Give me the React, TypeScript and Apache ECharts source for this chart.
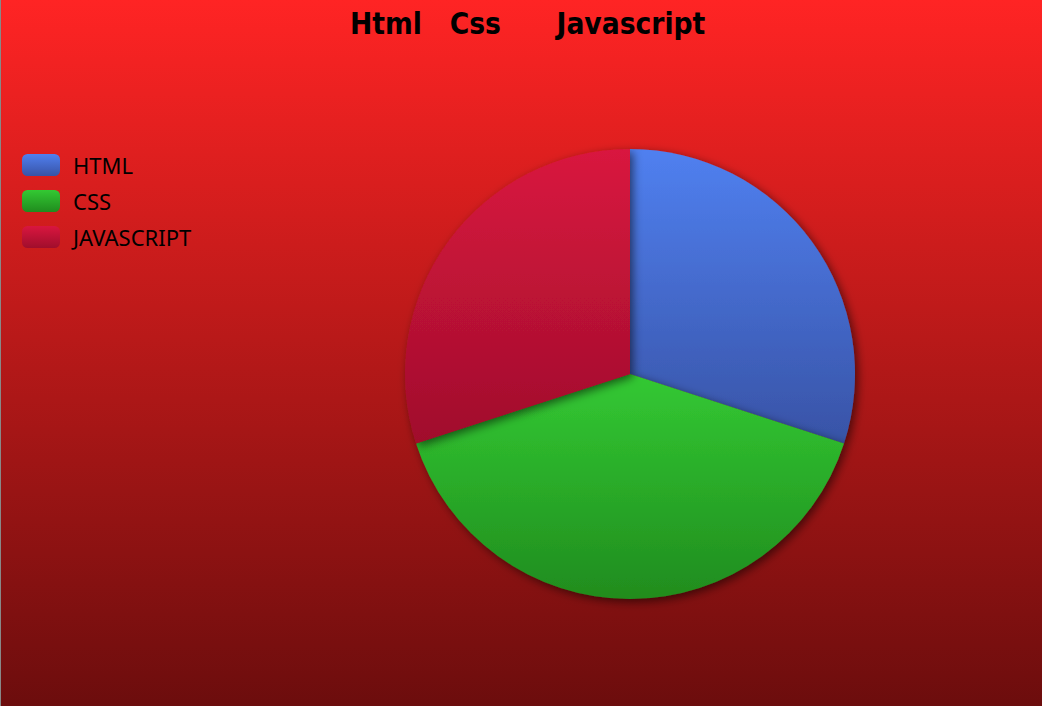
import React, { useEffect, useRef } from "react";
import * as echarts from "echarts";

const titleText = "Html   Css      Javascript";
const categories = ["HTML", "CSS", "JAVASCRIPT"];
const values = [30, 40, 30];
const topColors = ["#5080f0", "#33c933", "#d9163f"];
const bottomColors = ["#3853a6", "#208c1e", "#a00e2c"];

export default function App() {
  const ref = useRef<HTMLDivElement>(null);
  useEffect(() => {
    if (!ref.current) return;
    const chart = echarts.init(ref.current, undefined, { renderer: "svg" });
    const grad = (i: number) =>
      new echarts.graphic.LinearGradient(0, 0, 0, 1, [
        { offset: 0, color: topColors[i] },
        { offset: 1, color: bottomColors[i] },
      ]);
    chart.setOption({
      animation: false,
      backgroundColor: new echarts.graphic.LinearGradient(0, 0, 0, 1, [
        { offset: 0, color: "#ff2424" },
        { offset: 1, color: "#6c0d0d" },
      ]),
      title: {
        text: titleText,
        left: 344,
        top: 4,
        textStyle: {
          color: "#000",
          fontSize: 29.6,
          fontWeight: "bold",
          fontFamily: "'DejaVu Sans Condensed', 'Liberation Sans Narrow', 'Roboto Condensed', sans-serif",
        },
      },
      legend: {
        orient: "vertical",
        left: 16,
        top: 149,
        icon: "roundRect",
        itemWidth: 38,
        itemHeight: 22,
        itemGap: 14,
        textStyle: { color: "#000", fontSize: 22, fontFamily: "Noto Sans", padding: [0, 0, 0, 8] },
        data: categories,
      },
      series: [
        {
          type: "pie",
          center: [629, 374],
          radius: 225,
          label: { show: false },
          labelLine: { show: false },
          emphasis: { disabled: true },
          itemStyle: {
            shadowBlur: 10,
            shadowColor: "rgba(0,0,0,0.55)",
            shadowOffsetX: 3,
            shadowOffsetY: 3,
          },
          data: categories.map((c, i) => ({
            name: c,
            value: values[i],
            itemStyle: { color: grad(i) },
          })),
        },
      ],
    });
    return () => chart.dispose();
  }, []);
  return (
    <div
      ref={ref}
      style={{
        position: "absolute",
        left: 0,
        top: 0,
        width: 1042,
        height: 706,
        boxSizing: "border-box",
        borderLeft: "1px solid #888",
      }}
    />
  );
}
